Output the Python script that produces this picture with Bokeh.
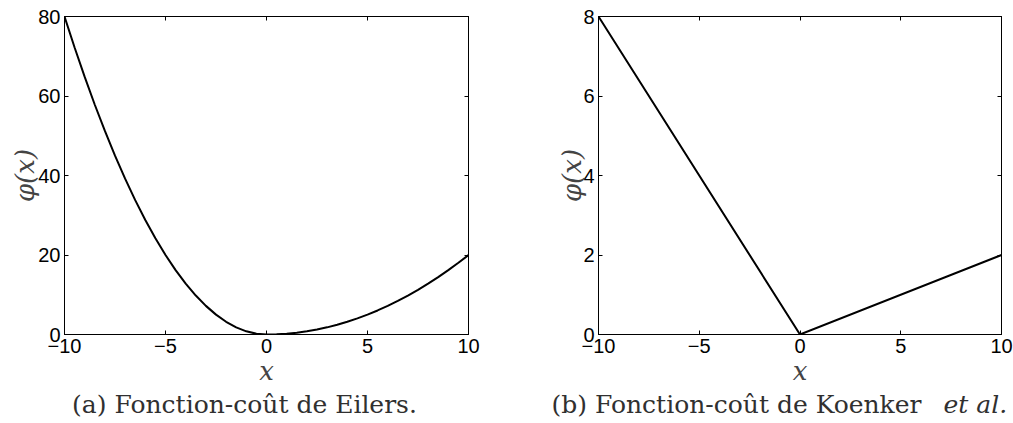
import math
from bokeh.plotting import figure
from bokeh.layouts import row, column
from bokeh.models import Range1d, LinearAxis, FixedTicker, Label
from bokeh.embed import file_html
from bokeh.resources import INLINE

# ---- data ----
x_eilers = [-10, -9.5, -9, -8.5, -8, -7.5, -7, -6.5, -6, -5.5, -5, -4.5, -4, -3.5, -3, -2.5, -2, -1.5, -1, -0.5, 0,
            0.5, 1, 1.5, 2, 2.5, 3, 3.5, 4, 4.5, 5, 5.5, 6, 6.5, 7, 7.5, 8, 8.5, 9, 9.5, 10]
y_eilers = [80, 72.2, 64.8, 57.8, 51.2, 45, 39.2, 33.8, 28.8, 24.2, 20, 16.2, 12.8, 9.8, 7.2, 5, 3.2, 1.8, 0.8, 0.2, 0,
            0.05, 0.2, 0.45, 0.8, 1.25, 1.8, 2.45, 3.2, 4.05, 5, 6.05, 7.2, 8.45, 9.8, 11.25, 12.8, 14.45, 16.2, 18.05, 20]

x_koenker = [-10, 0, 10]
y_koenker = [8, 0, 2]

x_ticks = [-10, -5, 0, 5, 10]
x_tick_labels = ["\u221210", "\u22125", "0", "5", "10"]
y_ticks_a = [0, 20, 40, 60, 80]
y_ticks_b = [0, 2, 4, 6, 8]

y_label = "\u03c6(x)"
x_label = "x"
caption_a = "(a) Fonction-co\u00fbt de Eilers."
caption_b = "(b) Fonction-co\u00fbt de Koenker"
caption_b_it = "et al."

TICK_FONT = "Liberation Sans"
SERIF = "DejaVu Serif"
H = 389
HCAP = 423 - H


def make_panel(xs, ys, yticks, ymax, width, left, right, ylab_standoff):
    p = figure(width=width, height=H, output_backend="svg", toolbar_location=None,
               x_range=Range1d(-10, 10), y_range=Range1d(0, ymax),
               x_axis_location=None, y_axis_location=None,
               min_border_left=left, min_border_right=right,
               min_border_top=16, min_border_bottom=H - 16 - 318)
    p.grid.visible = False
    p.background_fill_color = "white"
    p.border_fill_color = "white"
    p.outline_line_color = "black"
    p.outline_line_width = 1

    xl = {t: s for t, s in zip(x_ticks, x_tick_labels)}
    axes = {
        "below": LinearAxis(ticker=FixedTicker(ticks=x_ticks), major_label_overrides=xl,
                            axis_label=x_label, axis_label_standoff=0),
        "left": LinearAxis(ticker=FixedTicker(ticks=yticks),
                           axis_label=y_label, axis_label_standoff=ylab_standoff),
        "above": LinearAxis(ticker=FixedTicker(ticks=x_ticks),
                            major_label_overrides={t: "" for t in x_ticks}),
        "right": LinearAxis(ticker=FixedTicker(ticks=yticks),
                            major_label_overrides={t: "" for t in yticks}),
    }
    for loc, ax in axes.items():
        ax.major_tick_in = 4
        ax.major_tick_out = 0
        ax.minor_tick_line_color = None
        ax.axis_line_color = "black"
        ax.major_tick_line_color = "black"
        if loc in ("below", "left"):
            ax.major_label_text_font = TICK_FONT
            ax.major_label_text_font_size = "20px"
            ax.major_label_text_color = "black"
            ax.major_label_standoff = 4
            ax.axis_label_text_font = SERIF
            ax.axis_label_text_font_style = "italic"
            ax.axis_label_text_font_size = "26px"
            ax.axis_label_text_color = "#444444"
        else:
            ax.major_label_text_color = None
            ax.major_label_standoff = 0
        p.add_layout(ax, loc)

    p.line(xs, ys, line_color="black", line_width=2)
    return p


p1 = make_panel(x_eilers, y_eilers, y_ticks_a, 80, 508, 64, 40, -5)
p2 = make_panel(x_koenker, y_koenker, y_ticks_b, 8, 505, 90, 12, -7)

# caption strip below the panels; 1 data unit = 1 pixel
cap = figure(width=1013, height=HCAP, output_backend="svg", toolbar_location=None,
             x_range=Range1d(0, 1013), y_range=Range1d(0, HCAP),
             x_axis_location=None, y_axis_location=None, min_border=0)
cap.grid.visible = False
cap.outline_line_color = None
cap.border_fill_color = "white"
cap.background_fill_color = "white"

cap_style = dict(text_font=SERIF, text_font_size="25px", text_color="#303030", text_baseline="alphabetic")
cap.add_layout(Label(x=244, y=19, text=caption_a, text_align="center", **cap_style))
cap.add_layout(Label(x=921, y=19, text=caption_b, text_align="right", **cap_style))
cap.add_layout(Label(x=943, y=19, text=caption_b_it, text_align="left", text_font_style="italic", **cap_style))

layout = column(row(p1, p2), cap)
open("out.html", "w").write(file_html(layout, INLINE))
